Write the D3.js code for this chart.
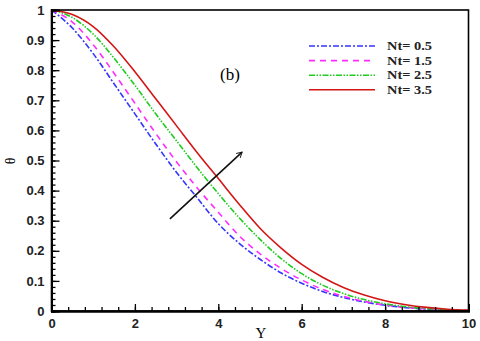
<!DOCTYPE html>
<html>
<head>
<meta charset="utf-8">
<script src="https://cdn.jsdelivr.net/npm/d3@7"></script>
<style>
  body { margin: 0; background: #fff; }
  svg { display: block; }
</style>
</head>
<body>
<div id="chart"></div>
<script>
// Y positions
var yVals = [0, 0.5, 1, 1.5, 2, 2.5, 3, 3.5, 4, 4.5, 5, 5.5, 6, 6.5, 7, 7.5, 8, 8.5, 9, 9.5, 10];
var nt05 = [1, 0.94, 0.855, 0.755, 0.655, 0.555, 0.46, 0.375, 0.29, 0.225, 0.172, 0.127, 0.092, 0.065, 0.045, 0.03, 0.019, 0.011, 0.006, 0.003, 0.001];
var nt15 = [1, 0.96, 0.885, 0.79, 0.69, 0.59, 0.495, 0.408, 0.328, 0.25, 0.19, 0.142, 0.103, 0.072, 0.049, 0.032, 0.02, 0.012, 0.007, 0.003, 0.001];
var nt25 = [1, 0.975, 0.92, 0.84, 0.75, 0.655, 0.565, 0.475, 0.39, 0.31, 0.238, 0.175, 0.124, 0.086, 0.058, 0.038, 0.024, 0.014, 0.008, 0.004, 0.002];
var nt35 = [1, 0.985, 0.945, 0.878, 0.795, 0.705, 0.615, 0.525, 0.44, 0.355, 0.275, 0.21, 0.155, 0.112, 0.078, 0.053, 0.034, 0.021, 0.012, 0.006, 0.003];
var seriesNames = ["Nt= 0.5", "Nt= 1.5", "Nt= 2.5", "Nt= 3.5"];
var xTicks = [0, 2, 4, 6, 8, 10];
var yTicks = [0, 0.1, 0.2, 0.3, 0.4, 0.5, 0.6, 0.7, 0.8, 0.9, 1];
var arrowFrom = [2.84, 0.306];
var arrowTo = [4.57, 0.528];

var W = 480, H = 341;
var margin = { top: 10, right: 11.5, bottom: 30, left: 51.5 };
var width = W - margin.left - margin.right,
    height = H - margin.top - margin.bottom;

var svg = d3.select("#chart").append("svg")
  .attr("width", W).attr("height", H);

var defs = svg.append("defs");
defs.append("marker")
  .attr("id", "head")
  .attr("viewBox", "0 0 12 12")
  .attr("refX", 10).attr("refY", 6)
  .attr("markerWidth", 7).attr("markerHeight", 7)
  .attr("markerUnits", "userSpaceOnUse")
  .attr("orient", "auto")
  .append("path")
  .attr("d", "M1,1 L10,6 L1,11")
  .attr("fill", "none").attr("stroke", "#111").attr("stroke-width", 1.6);

var g = svg.append("g")
  .attr("transform", "translate(" + margin.left + "," + margin.top + ")");

var x = d3.scaleLinear().domain([0, 10]).range([0, width]);
var y = d3.scaleLinear().domain([0, 1]).range([height, 0]);

var styles = [
  { color: "#3535ff", dash: "6,2,2,2" },
  { color: "#ff2cff", dash: "6,5" },
  { color: "#1fcc1f", dash: "6,1.5,1.5,1.5,1.5,1.5" },
  { color: "#d41515", dash: null }
];
var allSeries = [nt05, nt15, nt25, nt35];

var line = d3.line()
  .x(function (d, i) { return x(yVals[i]); })
  .y(function (d) { return y(d); })
  .curve(d3.curveMonotoneX);

// curves
allSeries.forEach(function (s, k) {
  g.append("path")
    .datum(s)
    .attr("d", line)
    .attr("fill", "none")
    .attr("stroke", styles[k].color)
    .attr("stroke-width", 1.6)
    .attr("stroke-dasharray", styles[k].dash);
});

// frame
g.append("rect")
  .attr("x", 0).attr("y", 0)
  .attr("width", width).attr("height", height)
  .attr("fill", "none").attr("stroke", "#000").attr("stroke-width", 1.6);

// axes with inward ticks
var tickFont = "'Liberation Sans', Arial, sans-serif";
var xAxis = g.append("g").attr("transform", "translate(0," + height + ")")
  .call(d3.axisBottom(x).tickValues(xTicks).tickSize(-7).tickPadding(8).tickFormat(d3.format("d")));
var xMinor = g.append("g").attr("transform", "translate(0," + height + ")")
  .call(d3.axisBottom(x).tickValues(d3.range(0, 10.01, 0.4)).tickSize(-4).tickFormat(""));
var yAxis = g.append("g")
  .call(d3.axisLeft(y).tickValues(yTicks).tickSize(-8).tickPadding(7).tickFormat(function (d) { return d === 0 || d === 1 ? d3.format("d")(d) : d3.format(".1f")(d); }));
var yMinor = g.append("g")
  .call(d3.axisLeft(y).tickValues(d3.range(0, 1.001, 0.02)).tickSize(-4).tickFormat(""));

[xAxis, xMinor, yAxis, yMinor].forEach(function (a) {
  a.select(".domain").attr("stroke", "#000").attr("stroke-width", 2);
  a.selectAll(".tick line").attr("stroke", "#000").attr("stroke-width", 1.3);
  a.selectAll("text")
    .attr("font-family", tickFont)
    .attr("font-weight", "bold")
    .attr("font-size", 13)
    .attr("fill", "#222");
});

// axis titles
svg.append("text")
  .attr("x", 261).attr("y", 338)
  .attr("text-anchor", "middle")
  .attr("font-family", "'Liberation Serif', 'Times New Roman', serif")
  .attr("font-size", 15)
  .text("Y");

svg.append("text")
  .attr("transform", "translate(15,161) rotate(-90)")
  .attr("text-anchor", "middle")
  .attr("font-family", "'Liberation Serif', 'Times New Roman', serif")
  .attr("font-size", 14)
  .text("θ");

// panel label
g.append("text")
  .attr("x", 220 - margin.left).attr("y", 80 - margin.top)
  .attr("font-family", "'Liberation Serif', 'Times New Roman', serif")
  .attr("font-size", 17)
  .text("(b)");

// legend
var legend = svg.append("g");
seriesNames.forEach(function (name, k) {
  var ly = 46 + k * 14.6;
  legend.append("line")
    .attr("x1", 309).attr("x2", 375)
    .attr("y1", ly).attr("y2", ly)
    .attr("stroke", styles[k].color)
    .attr("stroke-width", 1.6)
    .attr("stroke-dasharray", styles[k].dash);
  legend.append("text")
    .attr("x", 387).attr("y", ly + 4)
    .attr("font-family", "'Liberation Serif', 'Times New Roman', serif")
    .attr("font-weight", "bold")
    .attr("font-size", 12)
    .attr("textLength", 45)
    .attr("lengthAdjust", "spacingAndGlyphs")
    .attr("fill", "#222")
    .text(name);
});

// arrow showing increasing Nt
g.append("line")
  .attr("x1", x(arrowFrom[0])).attr("y1", y(arrowFrom[1]))
  .attr("x2", x(arrowTo[0])).attr("y2", y(arrowTo[1]))
  .attr("stroke", "#111").attr("stroke-width", 1.6)
  .attr("marker-end", "url(#head)");
</script>
</body>
</html>
